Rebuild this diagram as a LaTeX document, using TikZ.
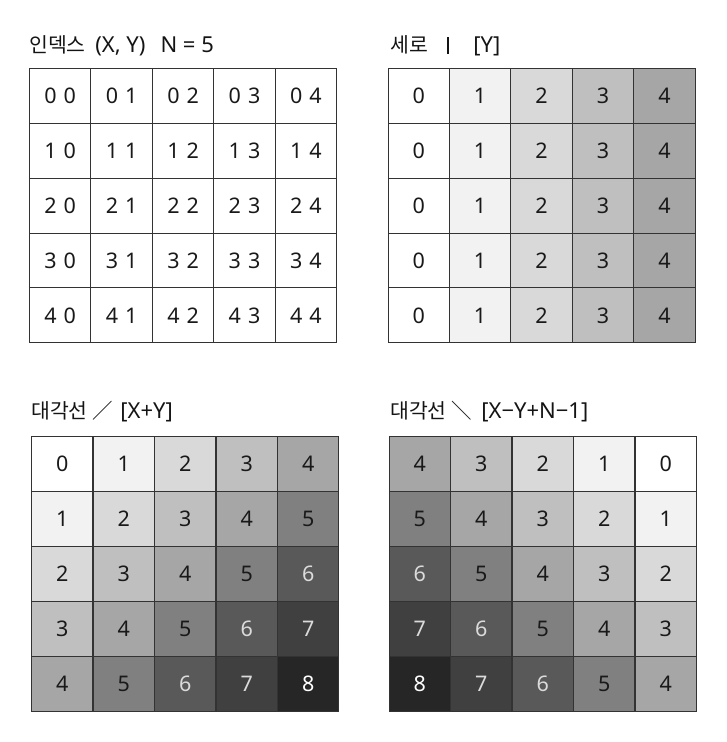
\documentclass[tikz,border=0pt]{standalone}
\usepackage{fontspec}
\setmainfont{Noto Sans}
\newfontfamily\kr{Noto Sans CJK KR}[Scale=0.93]
\definecolor{g0}{HTML}{FFFFFF}
\definecolor{g1}{HTML}{F2F2F2}
\definecolor{g2}{HTML}{D9D9D9}
\definecolor{g3}{HTML}{BFBFBF}
\definecolor{g4}{HTML}{A6A6A6}
\definecolor{g5}{HTML}{808080}
\definecolor{g6}{HTML}{595959}
\definecolor{g7}{HTML}{404040}
\definecolor{g8}{HTML}{262626}
\colorlet{t0}{black!90}\colorlet{t1}{black!90}\colorlet{t2}{black!90}
\colorlet{t3}{black!90}\colorlet{t4}{black!90}\colorlet{t5}{black!90}
\colorlet{t6}{black!14}\colorlet{t7}{black!14}\colorlet{t8}{white}
\tikzset{
	cell/.style={draw=black!80, line width=1pt, minimum width=61.4pt, minimum height=54.9pt,
		inner sep=0pt, outer sep=0pt, font=\fontsize{21.5}{21.5}\selectfont, text=black!90},
	title/.style={anchor=base west, inner sep=0pt, font=\fontsize{22}{26}\selectfont, text=black!92},
}

\begin{document}
\begin{tikzpicture}[x=1pt, y=-1pt]
		%%%%% START %%%%%
		\useasboundingbox (0, 0) rectangle (726, 742);
		
		% titles
		\node[title] (ttl-idx) at (29, 52) {{\kr 인덱스}\hspace{4pt} (X, Y)\hspace{15pt}N = 5};
		\node[title] (ttl-col) at (390, 52) {{\kr 세로}\hspace{19pt}\rule[-2pt]{2.6pt}{17.5pt}\hspace{24pt}[Y]};
		\node[title] (ttl-sum) at (31, 418) {{\kr 대각선 ／}\hspace{2pt} [X+Y]};
		\node[title] (ttl-dif) at (390, 418) {{\kr 대각선 ＼}\hspace{4pt} [X−Y+N−1]};
		
		% index (X, Y)
		\foreach \r in {0,...,4}{
			\foreach \c in {0,...,4}{
				\node[cell] (idx-\r-\c) at ({60.2+61.44*\c}, {95.75+54.9*\r}) {\r\hspace{7pt}\c};
			}
		}
		
		% [Y]
		\foreach \r in {0,...,4}{
			\foreach \c in {0,...,4}{
				\node[cell, fill=g\c, text=t\c] (col-\r-\c) at ({418.7+61.44*\c}, {95.75+54.9*\r}) {\c};
			}
		}
		
		% [X+Y]
		\foreach \r in {0,...,4}{
			\foreach \c in {0,...,4}{
				\pgfmathtruncatemacro{\v}{\r+\c}
				\node[cell, fill=g\v, text=t\v] (sum-\r-\c) at ({62.2+61.5*\c}, {464.15+54.9*\r}) {\v};
			}
		}
		
		% [X-Y+N-1]
		\foreach \r in {0,...,4}{
			\foreach \c in {0,...,4}{
				\pgfmathtruncatemacro{\v}{\r-\c+4}
				\node[cell, fill=g\v, text=t\v] (dif-\r-\c) at ({419.7+61.5*\c}, {464.15+54.9*\r}) {\v};
			}
		}
		
		%%%%% END %%%%%
\end{tikzpicture}
\end{document}
